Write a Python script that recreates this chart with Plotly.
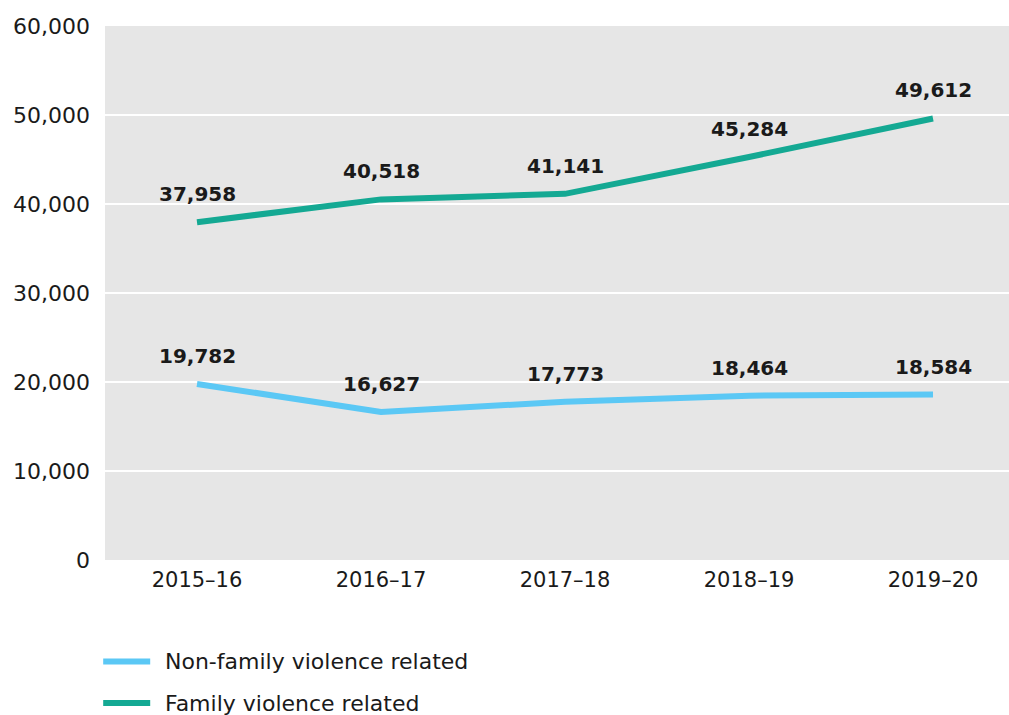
import plotly.graph_objects as go

# Financial years shown on the x axis
years = ["2015–16", "2016–17", "2017–18", "2018–19", "2019–20"]

# Counts per year for each series
non_family = [19782, 16627, 17773, 18464, 18584]
family = [37958, 40518, 41141, 45284, 49612]

series_names = ["Non-family violence related", "Family violence related"]
series_colors = ["#5bc8f5", "#14a993"]

y_ticks = [0, 10000, 20000, 30000, 40000, 50000, 60000]

FONT = "DejaVu Sans"
TEXT_COLOR = "#1a1a1a"

fig = go.Figure()

for name, values, color in zip(series_names, [non_family, family], series_colors):
    fig.add_trace(go.Scatter(
        x=years, y=values, mode="lines", name=name,
        line=dict(color=color, width=6), showlegend=False,
        hoverinfo="x+y",
    ))
    for yr, v in zip(years, values):
        fig.add_annotation(
            x=yr, y=v, text=f"<b>{v:,}</b>", showarrow=False,
            yshift=28, font=dict(family=FONT, size=20, color=TEXT_COLOR),
        )

# Legend drawn below the plot area
legend_y = [-0.19, -0.268]
for name, color, ly in zip(series_names, series_colors, legend_y):
    fig.add_shape(type="line", xref="paper", yref="paper",
                  x0=-0.002, x1=0.05, y0=ly, y1=ly,
                  line=dict(color=color, width=6))
    fig.add_annotation(xref="paper", yref="paper", x=0.064, y=ly,
                       text=name, showarrow=False, xanchor="left",
                       yanchor="middle",
                       font=dict(family=FONT, size=22, color=TEXT_COLOR))

fig.update_layout(
    width=1009, height=715,
    margin=dict(l=105, r=0, t=26, b=155),
    paper_bgcolor="white",
    plot_bgcolor="#e6e6e6",
    font=dict(family=FONT, size=20, color=TEXT_COLOR),
    xaxis=dict(
        type="category", range=[-0.5, 4.413],
        showgrid=False, zeroline=False, showline=False,
        ticks="", ticklabelstandoff=5,
        tickfont=dict(family=FONT, size=21, color=TEXT_COLOR),
    ),
    yaxis=dict(
        range=[0, 60000], tickvals=y_ticks,
        ticktext=[f"{t:,}" for t in y_ticks],
        showgrid=True, gridcolor="white", gridwidth=2,
        zeroline=False, showline=False, ticks="",
        ticklabelstandoff=14,
        tickfont=dict(family=FONT, size=22, color=TEXT_COLOR),
    ),
)

fig.write_html("out.html")
